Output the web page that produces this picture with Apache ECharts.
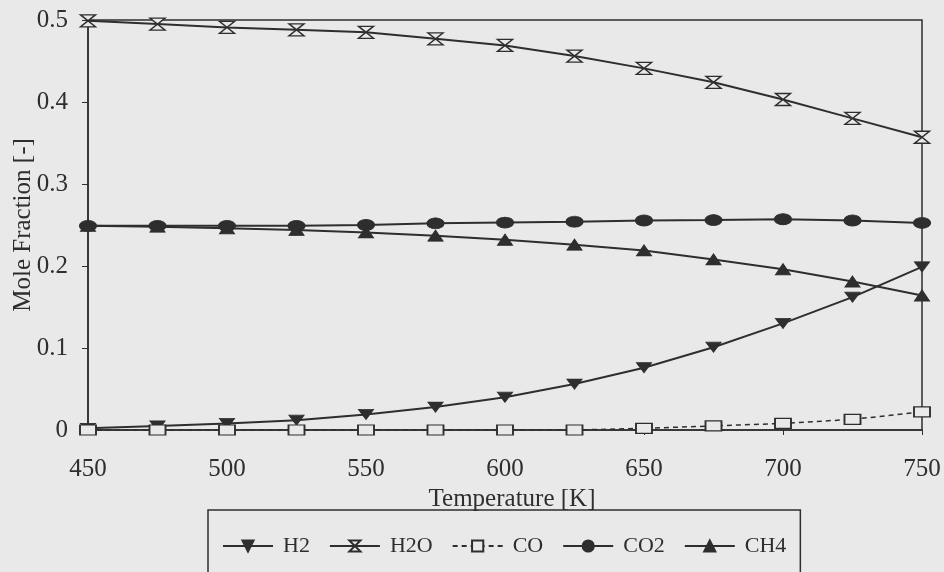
<!DOCTYPE html>
<html><head><meta charset="utf-8">
<script src="https://cdn.jsdelivr.net/npm/echarts@6/dist/echarts.min.js"></script>
<style>html,body{margin:0;padding:0;background:#e9e9e9}#c{width:944px;height:572px}</style>
</head><body><div id="c"></div>
<script>
const temperatures = [450,475,500,525,550,575,600,625,650,675,700,725,750];
const h2  = [0.002,0.005,0.008,0.012,0.019,0.028,0.040,0.056,0.076,0.101,0.130,0.162,0.199];
const h2o = [0.499,0.495,0.491,0.488,0.485,0.477,0.469,0.456,0.441,0.424,0.403,0.380,0.357];
const co  = [0,0,0,0,0,0,0,0.000,0.002,0.005,0.008,0.013,0.022];
const co2 = [0.249,0.249,0.249,0.249,0.250,0.252,0.253,0.254,0.2555,0.256,0.257,0.2555,0.2525];
const ch4 = [0.249,0.248,0.246,0.244,0.241,0.237,0.232,0.226,0.219,0.208,0.196,0.181,0.164];
const yTicks = [0,0.1,0.2,0.3,0.4,0.5];
const xTicks = [450,500,550,600,650,700,750];

const INK = '#2e2e2e', BG = '#e9e9e9', FONT = '"Liberation Serif", "Times New Roman", serif';
const pair = a => temperatures.map((t,i)=>[t,a[i]]);
const hourglass = 'path://M0,0 L10,0 L0,10 L10,10 Z';

function mk(name, data, symbol, size, opts) {
  return Object.assign({
    name, type:'line', data: pair(data), symbol, symbolSize: size,
    showSymbol:true, smooth:false, animation:false,
    lineStyle:{color:INK, width:2},
    itemStyle:{color:INK, borderColor:INK, borderWidth:1}
  }, opts||{});
}

const chart = echarts.init(document.getElementById('c'), null, {renderer:'canvas'});
chart.setOption({
  backgroundColor: BG,
  animation:false,
  grid:{left:88, right:22, top:20, bottom:142, containLabel:false, outerBoundsMode:'none',
    show:true, borderColor:INK, borderWidth:1.5, backgroundColor:'transparent'},
  xAxis:{type:'value', min:450, max:750, interval:50,
    name:'Temperature [K]', nameLocation:'middle', nameGap:57, nameMoveOverlap:false,
    nameTextStyle:{fontFamily:FONT, fontSize:25, color:INK, padding:[0,0,0,14]},
    axisLine:{lineStyle:{color:INK, width:1.5}}, axisTick:{show:true, inside:false, length:5, lineStyle:{color:INK}},
    axisLabel:{fontFamily:FONT, fontSize:25, color:INK, margin:27, formatter:v=>xTicks.includes(v)?String(v):''},
    splitLine:{show:false}},
  yAxis:{type:'value', min:0, max:0.5, interval:0.1,
    name:'Mole Fraction [-]', nameLocation:'middle', nameGap:52, nameRotate:90, nameMoveOverlap:false,
    nameTextStyle:{fontFamily:FONT, fontSize:25, color:INK},
    axisLine:{show:true, lineStyle:{color:INK, width:1.5}}, axisTick:{show:true, inside:false, length:6, lineStyle:{color:INK}},
    axisLabel:{fontFamily:FONT, fontSize:25, color:INK, margin:20,
      formatter:v=>{const t=yTicks.find(x=>Math.abs(x-v)<1e-9); return t===undefined?'':String(t);}},
    splitLine:{show:false}},
  legend:{
    left:208, top:510, orient:'horizontal',
    padding:[25,14,40,14], borderColor:INK, borderWidth:1.5,
    itemWidth:50, itemHeight:14, itemGap:19,
    textStyle:{fontFamily:FONT, fontSize:22, color:INK, padding:[0,0,0,5]},
    data:['H2','H2O','CO','CO2','CH4']
  },
  series:[
    mk('H2', h2, 'triangle', [15,10], {symbolRotate:180}),
    mk('H2O', h2o, hourglass, [15,12], {itemStyle:{color:BG, borderColor:INK, borderWidth:1.5}}),
    mk('CO', co, 'rect', [16,10], {lineStyle:{color:INK, width:1.5, type:[5,4]}, itemStyle:{color:BG, borderColor:INK, borderWidth:1.5}}),
    mk('CO2', co2, 'circle', [17,11]),
    mk('CH4', ch4, 'triangle', [15,11])
  ]
});
</script></body></html>
